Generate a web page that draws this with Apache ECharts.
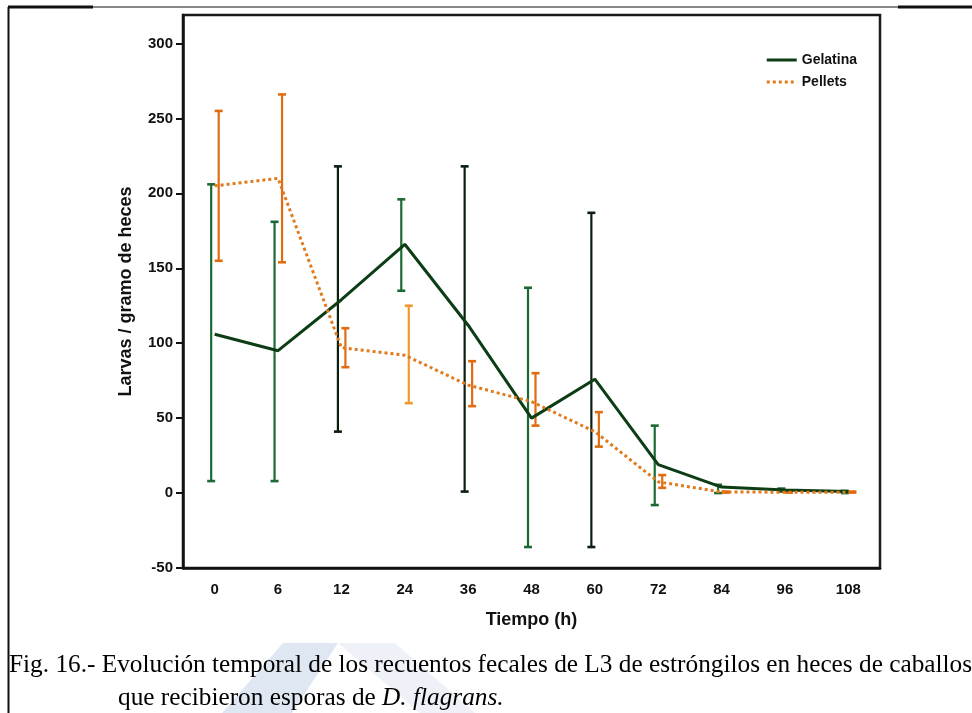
<!DOCTYPE html>
<html>
<head>
    <meta charset="utf-8">
    <title>Evolución temporal L3</title>
    <style type="text/css">
        html, body { margin: 0; padding: 0; background: #fff; }
        #chart { width: 972px; height: 713px; }
    </style>
</head>
<body>
    <div id="chart"></div>
    <script src="https://cdn.jsdelivr.net/npm/echarts@6/dist/echarts.min.js"></script>
    <script type="text/javascript">
        // datos
        var hours = ['0', '6', '12', '24', '36', '48', '60', '72', '84', '96', '108'];
        var gelatina = [106, 95, 129, 166, 112, 50, 76, 19, 4, 2, 1];
        var gelatinaLow = [8, 8, 41, 135, 1, -36, -36, -8, 0, 1, 0];
        var gelatinaHigh = [206, 181, 218, 196, 218, 137, 187, 45, 5.5, 3, 1.5];
        var pellets = [205, 210, 97, 92, 72, 61, 41, 7.5, 0.7, 0.6, 0.6];
        var pelletsLow = [155, 154, 84, 60, 58, 45, 31, 3.5, 0.3, 0.3, 0.3];
        var pelletsHigh = [255, 266, 110, 125, 88, 80, 54, 12, 1, 1, 1];
        var yTicks = [-50, 0, 50, 100, 150, 200, 250, 300];

        var axisFont = '"Liberation Sans", Arial, sans-serif';
        var captionFont = '"Liberation Serif", "DejaVu Serif", serif';
        var darkBars = [2, 4, 6]; // barras casi negras en la figura

        function errorData(low, high) {
            var out = [];
            for (var i = 0; i < low.length; i++) out.push([i, low[i], high[i]]);
            return out;
        }

        function errorRender(dx, colorFn) {
            return function (params, api) {
                var i = api.value(0);
                var p1 = api.coord([i, api.value(1)]);
                var p2 = api.coord([i, api.value(2)]);
                var x = p1[0] + dx;
                var c = colorFn(i);
                var st = { stroke: c, lineWidth: 2.2 };
                var cap = { stroke: c, lineWidth: 2.6 };
                return {
                    type: 'group',
                    children: [
                        { type: 'line', shape: { x1: x, y1: p1[1], x2: x, y2: p2[1] }, style: st },
                        { type: 'line', shape: { x1: x - 4, y1: p1[1], x2: x + 4, y2: p1[1] }, style: cap },
                        { type: 'line', shape: { x1: x - 4, y1: p2[1], x2: x + 4, y2: p2[1] }, style: cap }
                    ]
                };
            };
        }

        var chart = echarts.init(document.getElementById('chart'));
        var option = {
            animation: false,
            backgroundColor: '#fff',
            grid: {
                left: 183, right: 92, top: 15, bottom: 145,
                show: true, borderColor: '#1a1a1a', borderWidth: 2.5
            },
            legend: {
                orient: 'vertical',
                right: 110, top: 48,
                itemWidth: 30, itemHeight: 12, itemGap: 8,
                itemStyle: { opacity: 0 },
                lineStyle: { width: 3 },
                textStyle: { fontFamily: axisFont, fontWeight: 'bold', fontSize: 14, color: '#111' },
                data: ['Gelatina', 'Pellets']
            },
            xAxis: {
                type: 'category',
                data: hours,
                name: 'Tiempo (h)',
                nameLocation: 'middle',
                nameGap: 43,
                nameTextStyle: { fontFamily: axisFont, fontWeight: 'bold', fontSize: 18, color: '#111' },
                axisLine: { onZero: false, lineStyle: { color: '#111', width: 2.5 } },
                axisTick: { alignWithLabel: true, length: 8, lineStyle: { color: '#111', width: 2 } },
                axisLabel: { margin: 14, fontFamily: axisFont, fontWeight: 'bold', fontSize: 15, color: '#111' },
                splitLine: { show: false }
            },
            yAxis: {
                type: 'value',
                min: -50, max: 319, interval: 50,
                name: 'Larvas / gramo de heces',
                nameLocation: 'middle',
                nameGap: 48,
                nameTextStyle: { fontFamily: axisFont, fontWeight: 'bold', fontSize: 18, color: '#111' },
                axisLine: { show: true, lineStyle: { color: '#111', width: 2.5 } },
                axisTick: { show: true, length: 7, customValues: yTicks, lineStyle: { color: '#111', width: 2 } },
                axisLabel: { margin: 10, customValues: yTicks, fontFamily: axisFont, fontWeight: 'bold', fontSize: 15, color: '#111' },
                splitLine: { show: false }
            },
            series: [
                {
                    name: 'Gelatina', type: 'line', data: gelatina,
                    symbol: 'none', z: 3,
                    lineStyle: { color: '#0c3d15', width: 3 },
                    itemStyle: { color: '#0c3d15' }
                },
                {
                    name: 'Pellets', type: 'line', data: pellets,
                    symbol: 'none', z: 4,
                    lineStyle: { color: '#e07a1c', width: 3, type: 'dotted' },
                    itemStyle: { color: '#e07a1c' }
                },
                {
                    name: 'errGelatina', type: 'custom', z: 2,
                    data: errorData(gelatinaLow, gelatinaHigh),
                    renderItem: errorRender(-3.5, function (i) {
                        return darkBars.indexOf(i) >= 0 ? '#0b1f0e' : '#1c6a33';
                    })
                },
                {
                    name: 'errPellets', type: 'custom', z: 2,
                    data: errorData(pelletsLow, pelletsHigh),
                    renderItem: errorRender(4, function (i) {
                        return i === 3 ? '#f0982e' : '#e06c12';
                    })
                }
            ],
            graphic: [
                // marca de agua tenue
                { type: 'polygon', z: -10, silent: true,
                  shape: { points: [[222, 713], [283, 643], [338, 643], [292, 713]] },
                  style: { fill: '#dfe7f3' } },
                { type: 'polygon', z: -10, silent: true,
                  shape: { points: [[338, 643], [395, 643], [475, 713], [420, 713]] },
                  style: { fill: '#eef2f8' } },
                // marco de la pagina
                { type: 'line', shape: { x1: 8.5, y1: 7, x2: 8.5, y2: 713 }, style: { stroke: '#111', lineWidth: 2 } },
                { type: 'line', shape: { x1: 8, y1: 7, x2: 972, y2: 7 }, style: { stroke: '#111', lineWidth: 1.2 } },
                { type: 'line', shape: { x1: 8, y1: 7, x2: 93, y2: 7 }, style: { stroke: '#111', lineWidth: 3 } },
                { type: 'line', shape: { x1: 898, y1: 7, x2: 972, y2: 7 }, style: { stroke: '#111', lineWidth: 3 } },
                // pie de figura
                {
                    type: 'text', left: 9, top: 653,
                    style: {
                        text: 'Fig. 16.- Evolución temporal de los recuentos fecales de L3 de estróngilos en heces de caballos',
                        font: '25.3px ' + captionFont,
                        fill: '#000'
                    }
                },
                {
                    type: 'text', left: 118, top: 686,
                    style: {
                        text: '{n|que recibieron esporas de }{i|D. flagrans.}',
                        rich: {
                            n: { font: '25.3px ' + captionFont, fill: '#000' },
                            i: { font: 'italic 25.3px ' + captionFont, fill: '#000' }
                        }
                    }
                }
            ]
        };
        chart.setOption(option);
    </script>
</body>
</html>
